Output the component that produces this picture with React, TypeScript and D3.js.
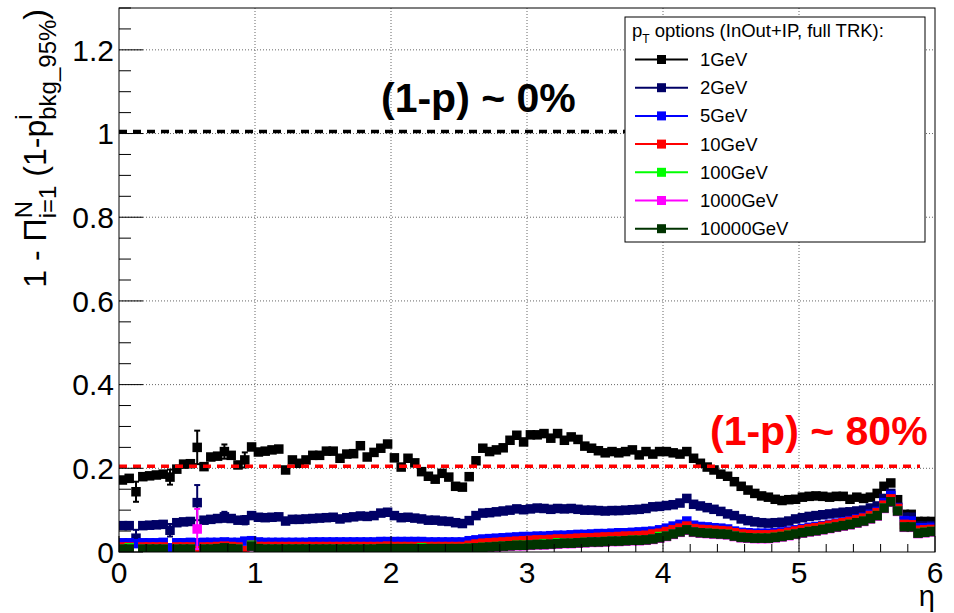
import React from 'react';
import * as d3 from 'd3';

// frame of the pad, in pixels
const W = 954;
const H = 613;
const frame = { left: 119, right: 935, top: 8, bottom: 552 };

// eta binning: 120 bins of 0.05 between 0 and 6
const nBins = 120;
const binWidth = 0.05;
const etaCenters = d3.range(nBins).map(i => (i + 0.5) * binWidth);

const seriesNames = ['1GeV', '2GeV', '5GeV', '10GeV', '100GeV', '1000GeV', '10000GeV'];
const seriesColors = ['#000000', '#000066', '#0000ff', '#ff0000', '#00ff00', '#ff00ff', '#003300'];

const v1GeV = [
  0.172, 0.176, 0.144, 0.180, 0.182, 0.184, 0.186, 0.179, 0.198, 0.210,
  0.211, 0.250, 0.204, 0.227, 0.229, 0.240, 0.231, 0.208, 0.220, 0.251,
  0.239, 0.241, 0.244, 0.246, 0.196, 0.220, 0.212, 0.220, 0.231, 0.231,
  0.241, 0.241, 0.224, 0.234, 0.235, 0.254, 0.227, 0.238, 0.248, 0.258,
  0.225, 0.203, 0.224, 0.213, 0.192, 0.181, 0.174, 0.188, 0.179, 0.157,
  0.155, 0.180, 0.218, 0.248, 0.240, 0.244, 0.249, 0.267, 0.279, 0.263,
  0.280, 0.280, 0.283, 0.272, 0.283, 0.267, 0.275, 0.269, 0.253, 0.248,
  0.242, 0.237, 0.240, 0.237, 0.240, 0.244, 0.232, 0.240, 0.234, 0.240,
  0.240, 0.237, 0.234, 0.240, 0.224, 0.212, 0.203, 0.196, 0.186, 0.181,
  0.168, 0.157, 0.148, 0.140, 0.134, 0.131, 0.126, 0.123, 0.125, 0.126,
  0.131, 0.133, 0.134, 0.133, 0.131, 0.133, 0.133, 0.126, 0.131, 0.128,
  0.131, 0.140, 0.157, 0.165, 0.125, 0.090, 0.090, 0.073, 0.073, 0.073,
];

const v2GeV = [
  0.063, 0.063, 0.033, 0.063, 0.064, 0.065, 0.066, 0.052, 0.070, 0.072,
  0.073, 0.118, 0.076, 0.078, 0.080, 0.084, 0.080, 0.076, 0.076, 0.087,
  0.083, 0.082, 0.083, 0.084, 0.074, 0.078, 0.078, 0.079, 0.080, 0.081,
  0.082, 0.083, 0.079, 0.082, 0.084, 0.086, 0.085, 0.087, 0.093, 0.095,
  0.087, 0.082, 0.083, 0.081, 0.079, 0.076, 0.076, 0.074, 0.073, 0.070,
  0.068, 0.075, 0.087, 0.093, 0.094, 0.096, 0.098, 0.100, 0.103, 0.101,
  0.103, 0.105, 0.104, 0.102, 0.104, 0.103, 0.104, 0.102, 0.100, 0.100,
  0.099, 0.098, 0.099, 0.099, 0.100, 0.101, 0.102, 0.104, 0.108, 0.109,
  0.111, 0.113, 0.117, 0.128, 0.114, 0.110, 0.106, 0.102, 0.097, 0.091,
  0.087, 0.079, 0.075, 0.072, 0.070, 0.069, 0.070, 0.071, 0.074, 0.079,
  0.082, 0.085, 0.087, 0.089, 0.091, 0.093, 0.095, 0.096, 0.098, 0.100,
  0.105, 0.110, 0.128, 0.140, 0.107, 0.083, 0.083, 0.062, 0.062, 0.063,
];

const v5GeV = [
  0.022, 0.022, 0.020, 0.022, 0.022, 0.022, 0.023, 0.010, 0.022, 0.022,
  0.023, 0.022, 0.023, 0.023, 0.023, 0.024, 0.023, 0.023, 0.026, 0.027,
  0.024, 0.023, 0.023, 0.023, 0.023, 0.023, 0.023, 0.023, 0.024, 0.024,
  0.024, 0.024, 0.024, 0.024, 0.024, 0.024, 0.024, 0.024, 0.025, 0.025,
  0.025, 0.025, 0.025, 0.025, 0.025, 0.024, 0.024, 0.024, 0.024, 0.024,
  0.024, 0.027, 0.029, 0.031, 0.032, 0.033, 0.034, 0.035, 0.036, 0.037,
  0.037, 0.038, 0.038, 0.039, 0.040, 0.040, 0.041, 0.042, 0.042, 0.043,
  0.044, 0.044, 0.045, 0.046, 0.046, 0.047, 0.048, 0.049, 0.050, 0.053,
  0.057, 0.062, 0.066, 0.074, 0.064, 0.061, 0.060, 0.058, 0.057, 0.055,
  0.050, 0.047, 0.046, 0.045, 0.045, 0.045, 0.046, 0.048, 0.050, 0.053,
  0.056, 0.059, 0.061, 0.063, 0.066, 0.069, 0.072, 0.075, 0.079, 0.083,
  0.090, 0.097, 0.118, 0.135, 0.105, 0.075, 0.074, 0.058, 0.058, 0.059,
];

// null = empty bin (not drawn)
const v10GeV = [
  0.012, 0.012, null, 0.012, 0.012, 0.012, 0.012, null, 0.012, 0.012,
  0.012, 0.003, 0.012, 0.012, 0.013, 0.014, 0.013, 0.012, 0.003, 0.016,
  0.013, 0.013, 0.013, 0.013, 0.013, 0.013, 0.013, 0.013, 0.013, 0.013,
  0.013, 0.013, 0.013, 0.013, 0.013, 0.013, 0.013, 0.013, 0.013, 0.014,
  0.013, 0.013, 0.013, 0.013, 0.013, 0.013, 0.013, 0.013, 0.013, 0.013,
  0.013, 0.016, 0.019, 0.021, 0.022, 0.023, 0.024, 0.025, 0.026, 0.027,
  0.028, 0.029, 0.029, 0.030, 0.031, 0.031, 0.032, 0.033, 0.034, 0.034,
  0.035, 0.036, 0.036, 0.037, 0.038, 0.038, 0.039, 0.040, 0.043, 0.045,
  0.049, 0.053, 0.057, 0.062, 0.056, 0.054, 0.053, 0.052, 0.051, 0.050,
  0.046, 0.043, 0.042, 0.041, 0.041, 0.041, 0.042, 0.044, 0.047, 0.050,
  0.053, 0.056, 0.058, 0.061, 0.064, 0.067, 0.070, 0.073, 0.077, 0.081,
  0.087, 0.094, 0.112, 0.127, 0.104, 0.066, 0.065, 0.052, 0.053, 0.054,
];

const v100GeV = [
  0.007, 0.010, null, 0.007, 0.007, 0.007, 0.007, null, 0.007, 0.007,
  0.007, null, 0.007, 0.007, 0.008, 0.010, 0.008, 0.007, null, 0.016,
  0.008, 0.007, 0.007, 0.007, 0.007, 0.007, 0.007, 0.007, 0.007, 0.007,
  0.007, 0.007, 0.007, 0.007, 0.007, 0.007, 0.007, 0.007, 0.008, 0.008,
  0.008, 0.008, 0.008, 0.008, 0.010, 0.008, 0.008, 0.008, 0.008, 0.008,
  0.008, 0.009, 0.010, 0.011, 0.012, 0.013, 0.014, 0.015, 0.016, 0.016,
  0.017, 0.018, 0.020, 0.019, 0.022, 0.021, 0.021, 0.022, 0.023, 0.024,
  0.024, 0.025, 0.026, 0.026, 0.027, 0.028, 0.028, 0.029, 0.031, 0.037,
  0.038, 0.043, 0.048, 0.053, 0.048, 0.046, 0.045, 0.044, 0.043, 0.042,
  0.038, 0.035, 0.034, 0.033, 0.033, 0.033, 0.035, 0.037, 0.040, 0.043,
  0.046, 0.049, 0.051, 0.054, 0.057, 0.060, 0.063, 0.066, 0.070, 0.074,
  0.080, 0.087, 0.105, 0.120, 0.098, 0.060, 0.060, 0.045, 0.047, 0.049,
];

const v1000GeV = [
  0.006, 0.006, null, 0.006, 0.006, 0.006, 0.006, null, 0.006, 0.006,
  0.006, 0.055, 0.006, 0.006, 0.007, 0.009, 0.007, 0.006, null, 0.013,
  0.007, 0.006, 0.006, 0.006, 0.006, 0.006, 0.006, 0.006, 0.006, 0.006,
  0.006, 0.006, 0.006, 0.006, 0.006, 0.006, 0.006, 0.006, 0.007, 0.007,
  0.007, 0.007, 0.007, 0.007, 0.007, 0.007, 0.007, 0.007, 0.007, 0.007,
  0.007, 0.008, 0.009, 0.010, 0.011, 0.012, 0.013, 0.014, 0.015, 0.015,
  0.016, 0.017, 0.017, 0.018, 0.019, 0.020, 0.020, 0.021, 0.022, 0.023,
  0.023, 0.024, 0.025, 0.025, 0.026, 0.027, 0.027, 0.028, 0.030, 0.033,
  0.037, 0.042, 0.047, 0.052, 0.047, 0.045, 0.044, 0.043, 0.042, 0.041,
  0.037, 0.034, 0.033, 0.032, 0.032, 0.032, 0.034, 0.036, 0.039, 0.042,
  0.045, 0.048, 0.050, 0.053, 0.056, 0.059, 0.062, 0.065, 0.069, 0.073,
  0.079, 0.086, 0.104, 0.119, 0.097, 0.059, 0.059, 0.044, 0.046, 0.048,
];

const v10000GeV = [
  0.007, 0.007, null, 0.007, 0.007, 0.007, 0.007, null, 0.007, 0.007,
  0.007, null, 0.007, 0.007, 0.008, 0.010, 0.008, 0.007, null, 0.014,
  0.008, 0.007, 0.007, 0.007, 0.007, 0.007, 0.007, 0.007, 0.007, 0.007,
  0.007, 0.007, 0.007, 0.007, 0.007, 0.007, 0.007, 0.007, 0.008, 0.008,
  0.008, 0.008, 0.008, 0.008, 0.008, 0.008, 0.008, 0.008, 0.008, 0.008,
  0.008, 0.009, 0.010, 0.011, 0.012, 0.013, 0.014, 0.015, 0.016, 0.016,
  0.017, 0.018, 0.018, 0.019, 0.020, 0.021, 0.021, 0.022, 0.023, 0.024,
  0.024, 0.025, 0.026, 0.026, 0.027, 0.028, 0.028, 0.029, 0.031, 0.034,
  0.038, 0.043, 0.048, 0.053, 0.048, 0.046, 0.045, 0.044, 0.043, 0.042,
  0.038, 0.035, 0.034, 0.033, 0.033, 0.033, 0.035, 0.037, 0.040, 0.043,
  0.046, 0.049, 0.051, 0.054, 0.057, 0.060, 0.063, 0.066, 0.070, 0.074,
  0.080, 0.087, 0.105, 0.120, 0.098, 0.060, 0.060, 0.045, 0.047, 0.049,
];

// visible error bars: [eta bin center, error]
const err1GeV: [number, number][] = [[0.125, 0.024], [0.375, 0.018], [0.575, 0.04], [0.775, 0.017], [0.925, 0.018]];
const err2GeV: [number, number][] = [[0.125, 0.02], [0.375, 0.015], [0.575, 0.042], [0.775, 0.012], [0.925, 0.01]];
const err1000GeV: [number, number][] = [[0.575, 0.048]];

const allValues = [v1GeV, v2GeV, v5GeV, v10GeV, v100GeV, v1000GeV, v10000GeV];
const allErrors: [number, number][][] = [err1GeV, err2GeV, [], [], [], err1000GeV, []];

const yTickLabels = ['0', '0.2', '0.4', '0.6', '0.8', '1', '1.2'];
const xTickLabels = ['0', '1', '2', '3', '4', '5', '6'];

// reference levels drawn as dashed lines
const level0 = 1.005;
const level80 = 0.205;

const font = '"Liberation Sans", Arial, Helvetica, sans-serif';

export default function App() {
  const x = d3.scaleLinear().domain([0, 6]).range([frame.left, frame.right]);
  const y = d3.scaleLinear().domain([0, 1.3]).range([frame.bottom, frame.top]);

  const yMajor = yTickLabels.map(Number);
  const yMinor = d3.range(0, 1.3001, 0.05).filter(v => Math.abs(v / 0.2 - Math.round(v / 0.2)) > 1e-6);
  const xMajor = xTickLabels.map(Number);
  const xMinor = d3.range(0, 6.0001, 0.2).filter(v => Math.abs(v - Math.round(v)) > 1e-6);

  const ms = 9.5; // marker size

  const series = seriesNames.map((name, k) => {
    const errMap = new Map(allErrors[k].map(([e, err]) => [Math.round((e - 0.025) / binWidth), err]));
    return {
      name,
      color: seriesColors[k],
      points: allValues[k]
        .map((v, i) => ({ eta: etaCenters[i], v, err: errMap.get(i) || 0 }))
        .filter(p => p.v !== null) as { eta: number; v: number; err: number }[],
    };
  });

  const legendRows = seriesNames.map((n, k) => ({ name: n, color: seriesColors[k], yy: 59.5 + k * 28.2 }));

  return (
    <div style={{ position: 'absolute', left: 0, top: 0 }}>
      <svg width={W} height={H} style={{ display: 'block', background: '#fff' }} fontFamily={font}>
        <defs>
          <clipPath id="frameClip">
            <rect x={frame.left} y={frame.top} width={frame.right - frame.left} height={frame.bottom - frame.top} />
          </clipPath>
        </defs>
        <rect x={0} y={0} width={W} height={H} fill="#fff" />

        {/* grid */}
        <g stroke="#666" strokeWidth={1} strokeDasharray="1 2">
          {xMajor.slice(1, -1).map(v => (
            <line key={'gx' + v} x1={x(v)} x2={x(v)} y1={frame.top} y2={frame.bottom} />
          ))}
          {yMajor.slice(1).map(v => (
            <line key={'gy' + v} x1={frame.left} x2={frame.right} y1={y(v)} y2={y(v)} />
          ))}
        </g>

        {/* data */}
        <g clipPath="url(#frameClip)">
          {series.map(s => (
            <g key={s.name} fill={s.color} stroke={s.color}>
              {s.points.filter(p => p.err > 0).map(p => (
                <g key={'e' + p.eta} strokeWidth={2}>
                  <line x1={x(p.eta)} x2={x(p.eta)} y1={y(p.v + p.err)} y2={y(p.v - p.err)} />
                  <line x1={x(p.eta) - 3} x2={x(p.eta) + 3} y1={y(p.v + p.err)} y2={y(p.v + p.err)} />
                  <line x1={x(p.eta) - 3} x2={x(p.eta) + 3} y1={y(p.v - p.err)} y2={y(p.v - p.err)} />
                </g>
              ))}
              {s.points.map(p => (
                <rect key={'m' + p.eta} x={x(p.eta) - ms / 2} y={y(p.v) - ms / 2} width={ms} height={ms} stroke="none" />
              ))}
            </g>
          ))}
        </g>

        {/* dashed reference lines */}
        <line x1={frame.left} x2={920} y1={y(level0)} y2={y(level0)} stroke="#000" strokeWidth={3.5} strokeDasharray="8 6" />
        <line x1={frame.left} x2={920} y1={y(level80)} y2={y(level80)} stroke="#ff0000" strokeWidth={3.5} strokeDasharray="8 6" />

        {/* frame */}
        <rect x={frame.left} y={frame.top} width={frame.right - frame.left} height={frame.bottom - frame.top} fill="none" stroke="#000" strokeWidth={1} />

        {/* ticks */}
        <g stroke="#000" strokeWidth={1}>
          {yMajor.map(v => (
            <line key={'ym' + v} x1={frame.left} x2={frame.left + 24} y1={y(v)} y2={y(v)} />
          ))}
          {yMinor.map(v => (
            <line key={'yn' + v} x1={frame.left} x2={frame.left + 12} y1={y(v)} y2={y(v)} />
          ))}
          {xMajor.map(v => (
            <line key={'xm' + v} x1={x(v)} x2={x(v)} y1={frame.bottom} y2={frame.bottom - 16} />
          ))}
          {xMinor.map(v => (
            <line key={'xn' + v} x1={x(v)} x2={x(v)} y1={frame.bottom} y2={frame.bottom - 8} />
          ))}
        </g>

        {/* tick labels */}
        <g fontSize={30} fill="#000">
          {yTickLabels.map(t => (
            <text key={'yl' + t} x={frame.left - 5} y={y(Number(t))} dy="0.36em" textAnchor="end">{t}</text>
          ))}
          {xTickLabels.map(t => (
            <text key={'xl' + t} x={x(Number(t))} y={583} textAnchor="middle">{t}</text>
          ))}
        </g>

        {/* axis titles */}
        <text x={frame.right} y={606} fontSize={29} textAnchor="end">η</text>
        <g transform={`translate(46, ${frame.top + 1}) rotate(-90)`}>
          <text x={0} y={0} textAnchor="end" fontSize={32}>
            <tspan>1 - Π</tspan>
            <tspan fontSize={24} dy={-14}>N</tspan>
            <tspan fontSize={24} dx={-17.3} dy={24}>i=1</tspan>
            <tspan dy={-10}> (1-p</tspan>
            <tspan fontSize={24} dy={-14}>i</tspan>
            <tspan fontSize={24} dx={-5.3} dy={24}>bkg_95%</tspan>
            <tspan dy={-10}>)</tspan>
          </text>
        </g>

        {/* annotations */}
        <text x={381} y={112} fontSize={41} fontWeight="bold" fill="#000">(1-p) ~ 0%</text>
        <text x={710} y={445} fontSize={41} fontWeight="bold" fill="#ff0000">(1-p) ~ 80%</text>

        {/* legend */}
        <g>
          <rect x={625} y={17} width={300} height={225} fill="#fff" stroke="#000" strokeWidth={1} />
          <text x={632} y={37} fontSize={18.5}>
            <tspan>p</tspan>
            <tspan fontSize={12} dy={6}>T</tspan>
            <tspan dy={-6}> options (InOut+IP, full TRK):</tspan>
          </text>
          {legendRows.map(r => (
            <g key={'lg' + r.name}>
              <line x1={635} x2={688} y1={r.yy} y2={r.yy} stroke={r.color} strokeWidth={2} />
              <rect x={661.5 - 4.5} y={r.yy - 4.5} width={9} height={9} fill={r.color} />
              <text x={700} y={r.yy + 6.5} fontSize={18.5}>{r.name}</text>
            </g>
          ))}
        </g>
      </svg>
    </div>
  );
}
